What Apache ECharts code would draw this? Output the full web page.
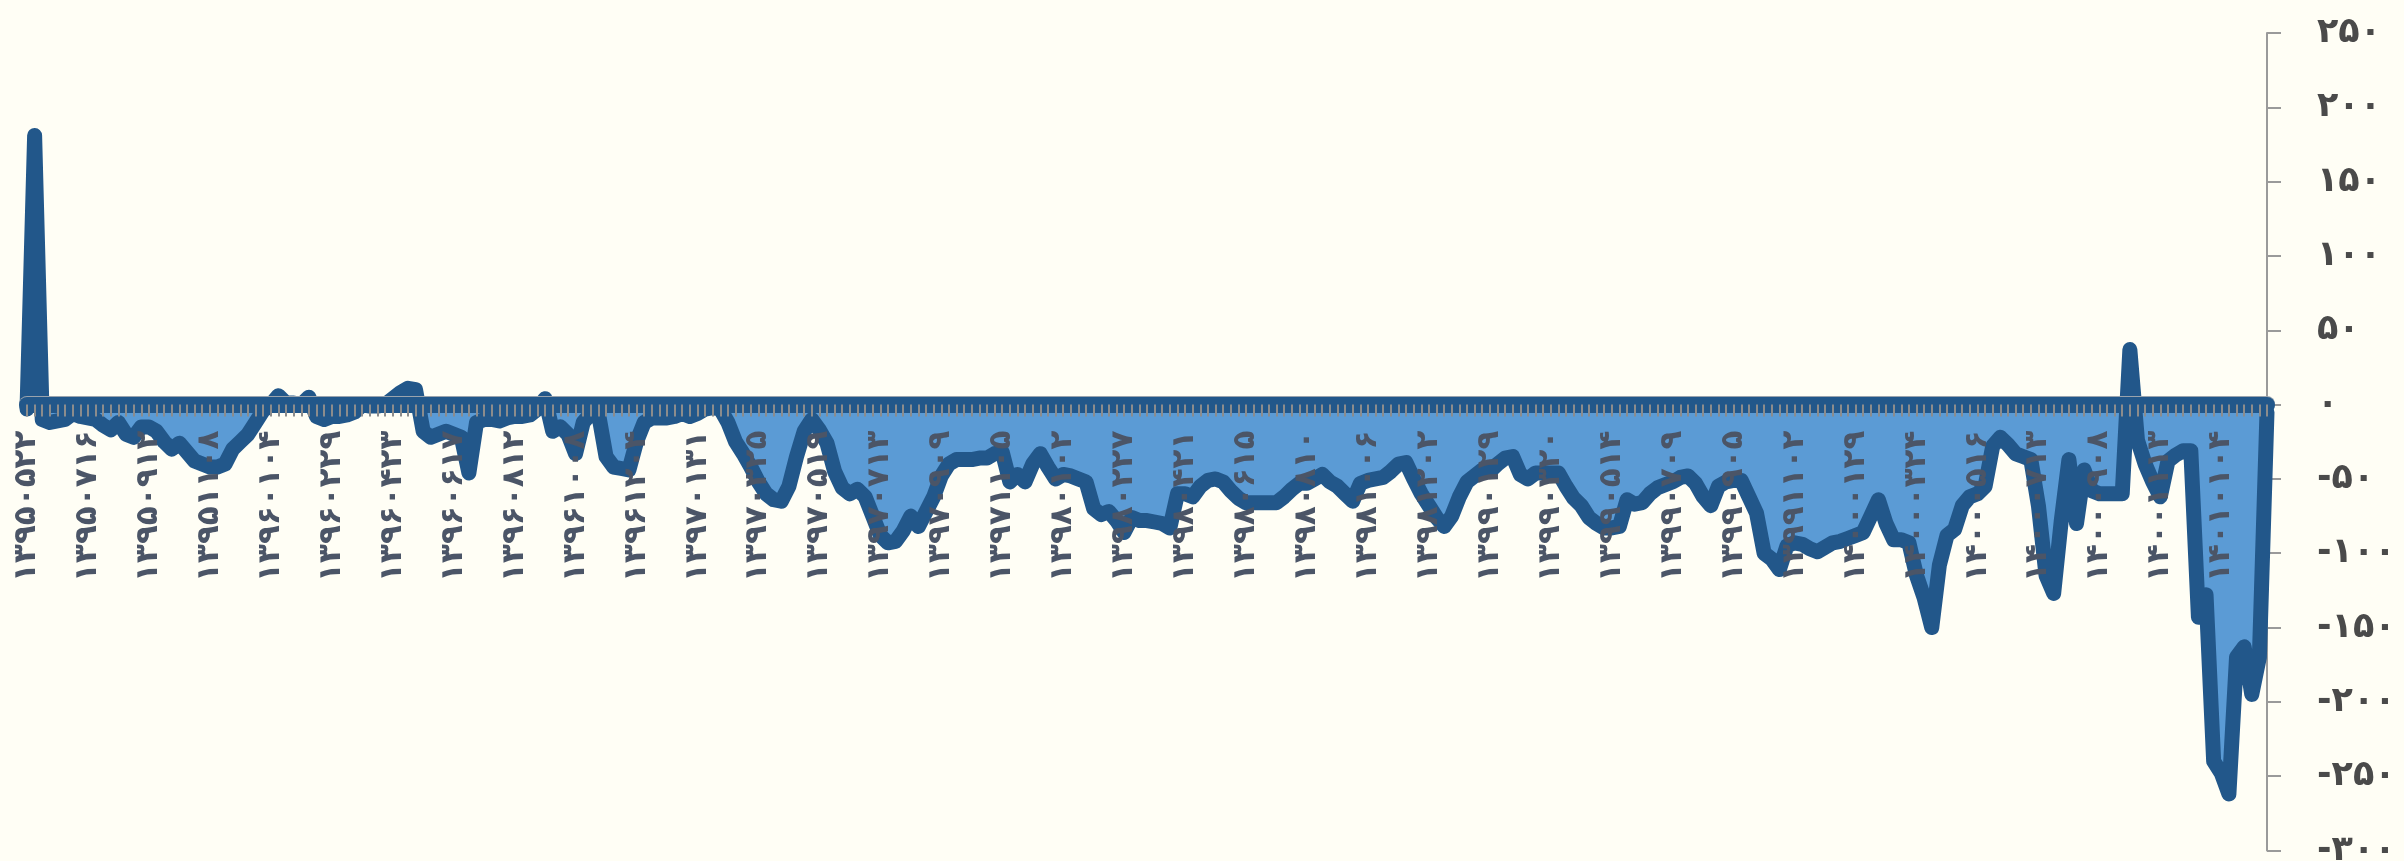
<!DOCTYPE html>
<html>
<head>
<meta charset="utf-8">
<script src="https://cdn.jsdelivr.net/npm/echarts@6/dist/echarts.min.js"></script>
<style>
  html, body { margin: 0; padding: 0; background: #fffef5; }
  #main { width: 2404px; height: 861px; }
</style>
</head>
<body>
<div id="main"></div>
<script>
// tick labels on the x axis (one every 8 points)
const tickLabels = [
  '۱۳۹۵۰۵۲۲', '۱۳۹۵۰۷۱۶', '۱۳۹۵۰۹۱۲', '۱۳۹۵۱۱۰۸', '۱۳۹۶۰۱۰۴', '۱۳۹۶۰۲۲۹',
  '۱۳۹۶۰۴۲۳', '۱۳۹۶۰۶۱۷', '۱۳۹۶۰۸۱۲', '۱۳۹۶۱۰۰۸', '۱۳۹۶۱۲۰۴', '۱۳۹۷۰۱۳۱',
  '۱۳۹۷۰۳۲۵', '۱۳۹۷۰۵۱۹', '۱۳۹۷۰۷۱۳', '۱۳۹۷۰۹۰۹', '۱۳۹۷۱۱۰۵', '۱۳۹۸۰۱۰۲',
  '۱۳۹۸۰۲۲۷', '۱۳۹۸۰۴۲۱', '۱۳۹۸۰۶۱۵', '۱۳۹۸۰۸۱۰', '۱۳۹۸۱۰۰۶', '۱۳۹۸۱۲۰۲',
  '۱۳۹۹۰۱۲۹', '۱۳۹۹۰۳۲۰', '۱۳۹۹۰۵۱۴', '۱۳۹۹۰۷۰۹', '۱۳۹۹۰۹۰۵', '۱۳۹۹۱۱۰۲',
  '۱۴۰۰۰۱۲۹', '۱۴۰۰۰۳۲۴', '۱۴۰۰۰۵۱۶', '۱۴۰۰۰۷۱۳', '۱۴۰۰۰۹۰۸', '۱۴۰۰۱۱۱۳',
  '۱۴۰۱۰۱۰۴'
];

// series values
const values = [
  -3, 181, -10, -12, -11, -10, -6, -8, -9, -10,
  -14, -17, -12, -20, -22, -15, -15, -18, -25, -30,
  -26, -32, -38, -40, -42, -42, -40, -30, -25, -20,
  -12, -4, 0, 6, 1, 1, 0, 5, -8, -10,
  -8, -8, -7, -5, 0, -1, -1, 0, 4, 8,
  11, 10, -18, -22, -20, -18, -20, -22, -46, -12,
  -10, -10, -11, -9, -8, -8, -7, -3, 4, -18,
  -15, -20, -33, -12, -6, -6, -35, -42, -43, -44,
  -25, -12, -9, -9, -9, -8, -6, -8, -6, -3,
  -2, -3, -12, -25, -33, -42, -52, -60, -64, -65,
  -55, -35, -18, -10, -17, -26, -45, -56, -60, -57,
  -62, -75, -88, -93, -92, -85, -75, -82, -72, -62,
  -48, -40, -37, -37, -37, -36, -36, -33, -32, -52,
  -47, -52, -40, -33, -42, -50, -47, -48, -50, -52,
  -70, -74, -72, -78, -86, -76, -78, -78, -79, -80,
  -83, -60, -60, -62, -55, -51, -50, -52, -58, -63,
  -66, -66, -66, -66, -66, -62, -57, -53, -53, -50,
  -47, -52, -55, -60, -65, -53, -51, -50, -49, -45,
  -40, -39, -50, -60, -68, -76, -82, -75, -62, -52,
  -48, -44, -45, -40, -36, -35, -47, -50, -46, -46,
  -46, -46, -55, -63, -68, -76, -80, -83, -83, -82,
  -64, -67, -66, -60, -56, -54, -52, -49, -48, -53,
  -62, -68, -55, -52, -51, -51, -62, -73, -100, -104,
  -111, -95, -93, -94, -97, -99, -96, -93, -92, -90,
  -88, -86, -75, -64, -80, -91, -91, -93, -115, -130,
  -150, -108, -88, -84, -68, -62, -60, -55, -28, -22,
  -27, -33, -35, -37, -68, -115, -127, -78, -37, -80,
  -44, -58, -60, -60, -60, -60, 37, -24, -40, -52,
  -62, -38, -34, -31, -31, -143, -128, -240, -248, -262,
  -170, -163, -195, -170, -5
];

const labelStep = 8;
const categories = values.map((v, i) => (i % labelStep === 0 ? (tickLabels[i / labelStep] || '') : ''));

const yMin = -300;
const yMax = 250;
const yStep = 50;

const faDigits = '۰۱۲۳۴۵۶۷۸۹';
function toFa(n) {
  return String(n).replace(/[0-9]/g, d => faDigits[+d]);
}

const chartH = 861;
const gridTop = 33;
const gridBottom = 10.5;
// put the category axis (line, ticks, labels) on the zero level
const zeroOffset = -(chartH - gridTop - gridBottom) * (0 - yMin) / (yMax - yMin);

const chart = echarts.init(document.getElementById('main'));
const option = {
  backgroundColor: '#fffef5',
  animation: false,
  grid: {
    left: 27,
    right: 137,
    top: gridTop,
    bottom: gridBottom,
    containLabel: false,
    outerBoundsMode: 'none'
  },
  xAxis: {
    type: 'category',
    data: categories,
    boundaryGap: false,
    position: 'bottom',
    offset: zeroOffset,
    z: 5,
    axisLine: {
      show: true,
      onZero: false,
      lineStyle: {
        color: '#22578a',
        width: 16,
        shadowColor: '#9aa3ad',
        shadowOffsetY: -1,
        shadowBlur: 0
      }
    },
    axisTick: {
      show: true,
      interval: 0,
      length: 12,
      lineStyle: { color: '#8c8c8c', width: 2 }
    },
    axisLabel: {
      show: true,
      interval: labelStep - 1,
      rotate: 90,
      margin: 26,
      color: '#4b5567',
      fontFamily: 'DejaVu Sans',
      fontWeight: 'bold',
      fontSize: 31
    },
    splitLine: { show: false }
  },
  yAxis: {
    type: 'value',
    position: 'right',
    min: yMin,
    max: yMax,
    interval: yStep,
    axisLine: {
      show: true,
      lineStyle: { color: '#9a9a9a', width: 2 }
    },
    axisTick: {
      show: true,
      length: 14,
      lineStyle: { color: '#9a9a9a', width: 2 }
    },
    axisLabel: {
      margin: 50,
      color: '#4a4a4a',
      fontFamily: 'DejaVu Sans',
      fontWeight: 'bold',
      fontSize: 35,
      formatter: v => toFa(v)
    },
    splitLine: { show: false }
  },
  series: [{
    type: 'line',
    data: values,
    symbol: 'none',
    z: 2,
    lineStyle: {
      color: '#22578a',
      width: 15,
      cap: 'round',
      join: 'round'
    },
    areaStyle: {
      color: '#5b9bd5',
      opacity: 1
    }
  }]
};
chart.setOption(option);
</script>
</body>
</html>
